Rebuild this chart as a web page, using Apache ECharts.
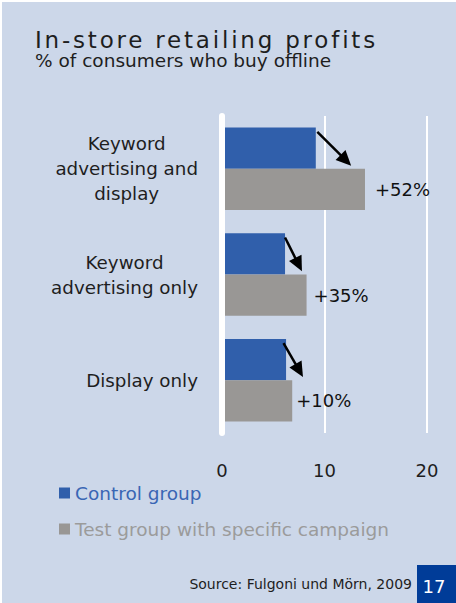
<!DOCTYPE html>
<html>
<head>
<meta charset="utf-8">
<script src="https://cdn.jsdelivr.net/npm/echarts@6/dist/echarts.min.js"></script>
<style>
  html, body { margin: 0; padding: 0; background: #ffffff; }
  #chart { width: 456px; height: 603px; background: #ccd7e9; box-shadow: inset 2px 2px 0 #ffffff; }
</style>
</head>
<body>
<div id="chart"></div>
<script>
// Chart data
const categories = ['Keyword\nadvertising and\ndisplay', 'Keyword\nadvertising only', 'Display only'];
const seriesNames = ['Control group', 'Test group with specific campaign'];
const controlGroup = [9.15, 6.15, 6.25];
const testGroup = [13.95, 8.25, 6.85];
const upliftLabels = ['+52%', '+35%', '+10%'];
// Arrow from the control bar end towards the test bar, in axis units
const arrowFrom = [9.3, 6.15, 6.0];
const arrowTo = [12.6, 7.8, 7.9];
const xMin = 0, xMax = 20, xStep = 10;

const titleText = 'In-store retailing profits';
const subtitleText = '% of consumers who buy offline';
const sourceText = 'Source: Fulgoni und Mörn, 2009';
const pageNumber = '17';

// Styling
const FONT = 'DejaVu Sans';
const TEXT = '#1e1e1e';
const BLUE = '#305fab';
const GREY = '#999795';
const labelGaps = [10, 7, 4];

const chart = echarts.init(document.getElementById('chart'), null, { renderer: 'svg' });

chart.setOption({
  animation: false,
  backgroundColor: 'transparent',
  textStyle: { fontFamily: FONT },
  title: [
    { text: titleText, left: 35, top: 30, padding: 0,
      textStyle: { fontFamily: FONT, fontSize: 23, lineHeight: 20, fontWeight: 'normal', color: TEXT } },
    { text: subtitleText, left: 35, top: 51, padding: 0,
      textStyle: { fontFamily: FONT, fontSize: 18.5, lineHeight: 18, fontWeight: 'normal', color: TEXT } }
  ],
  legend: {
    orient: 'vertical',
    left: 54,
    top: 477,
    itemWidth: 11,
    itemHeight: 11,
    itemGap: 14,
    icon: 'rect',
    selectedMode: false,
    textStyle: { fontFamily: FONT, fontSize: 18.5, lineHeight: 22 },
    data: [
      { name: seriesNames[0], textStyle: { color: '#3a66b4' } },
      { name: seriesNames[1], textStyle: { color: '#9b9b9b' } }
    ]
  },
  grid: { left: 222, right: 29, top: 116, bottom: 170, containLabel: false },
  xAxis: {
    type: 'value',
    min: xMin,
    max: xMax,
    interval: xStep,
    axisLine: { show: false },
    axisTick: { show: false },
    splitLine: { lineStyle: { color: '#ffffff', width: 2 } },
    axisLabel: { margin: 28, fontFamily: FONT, fontSize: 18, color: TEXT }
  },
  yAxis: {
    type: 'category',
    inverse: true,
    data: categories,
    z: 3,
    axisLine: { show: true, lineStyle: { color: '#ffffff', width: 6 } },
    axisTick: { show: false },
    axisLabel: {
      margin: 24,
      align: 'right',
      formatter: v => v.split('\n').map(s => '{c|' + s + '}').join('\n'),
      rich: { c: { align: 'center', fontFamily: FONT, fontSize: 18.3, lineHeight: 25, color: TEXT } }
    }
  },
  graphic: [
    {
      type: 'text', right: 44, top: 577,
      style: { text: sourceText, fontFamily: FONT, fontSize: 14, fill: TEXT }
    },
    {
      type: 'group', left: 417, top: 565,
      children: [
        { type: 'rect', shape: { x: 0, y: 0, width: 39, height: 38 }, style: { fill: '#003c98' } },
        { type: 'text', x: 17, y: 21, style: { text: pageNumber, fontFamily: FONT, fontSize: 18, fill: '#ffffff', align: 'center', verticalAlign: 'middle' } }
      ]
    }
  ],
  series: [
    {
      name: seriesNames[0],
      type: 'bar',
      data: controlGroup,
      barGap: '0%',
      barCategoryGap: '22%',
      itemStyle: { color: BLUE }
    },
    {
      name: seriesNames[1],
      type: 'bar',
      data: testGroup.map((v, i) => ({ value: v, label: { distance: labelGaps[i] } })),
      barGap: '0%',
      barCategoryGap: '22%',
      itemStyle: { color: GREY },
      label: {
        show: true,
        position: 'right',
        formatter: p => upliftLabels[p.dataIndex],
        fontFamily: FONT,
        fontSize: 18,
        color: '#111111'
      }
    },
    {
      type: 'custom',
      z: 5,
      silent: true,
      data: arrowFrom.map((v, i) => [i, v, arrowTo[i]]),
      encode: { y: 0, x: [1, 2] },
      renderItem: (params, api) => {
        const cat = api.value(0);
        const band = api.size([0, 1])[1];
        const a = api.coord([api.value(1), cat]);
        const b = api.coord([api.value(2), cat]);
        const x0 = a[0], y0 = a[1] - band * 0.35;
        const x1 = b[0], y1 = b[1] - band * 0.03;
        const len = Math.hypot(x1 - x0, y1 - y0);
        const ux = (x1 - x0) / len, uy = (y1 - y0) / len;
        const head = 15, half = 7;
        const bx = x1 - ux * head, by = y1 - uy * head;
        const nx = -uy, ny = ux;
        return {
          type: 'group',
          children: [
            { type: 'line', shape: { x1: x0, y1: y0, x2: bx + ux * 2, y2: by + uy * 2 }, style: { stroke: '#000000', lineWidth: 2.5 } },
            { type: 'polygon', shape: { points: [[x1, y1], [bx + nx * half, by + ny * half], [bx - nx * half, by - ny * half]] }, style: { fill: '#000000' } }
          ]
        };
      }
    }
  ]
});

// Wider tracking on the headline
function spaceTitle() {
  document.querySelectorAll('#chart svg text').forEach(t => {
    if (t.textContent === titleText) t.style.letterSpacing = '2.8px';
  });
}
spaceTitle();
chart.on('finished', spaceTitle);
</script>
</body>
</html>
